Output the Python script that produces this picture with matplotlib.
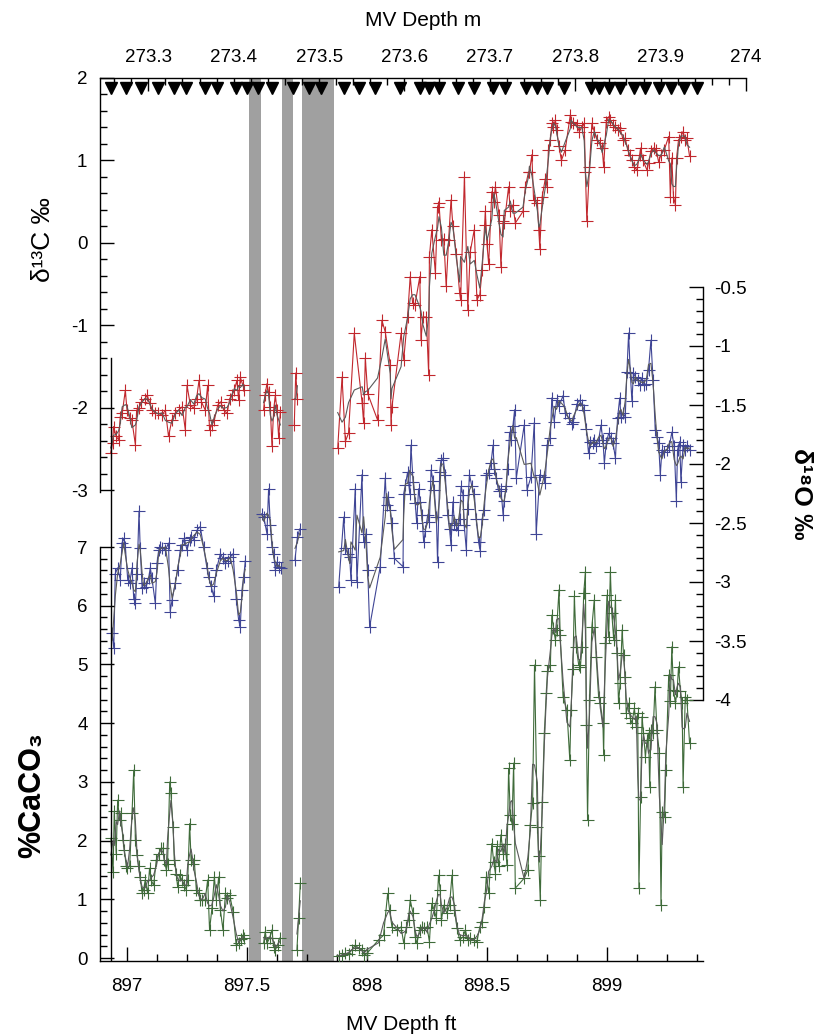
import numpy as np
import pandas as pd
import matplotlib
matplotlib.use('Agg')
import matplotlib.pyplot as plt
from matplotlib.lines import Line2D
from matplotlib.ticker import MultipleLocator, FuncFormatter

nan = np.nan

# ---- data -------------------------------------------------------------
# depth in ft (MV Depth), nan separates the core pieces around the gaps
c13_depth = [
    896.932, 896.940, 896.944, 896.955, 896.965, 896.972, 896.980, 896.993, 897.000, 897.011,
    897.020, 897.035, 897.040, 897.050, 897.060, 897.075, 897.085, 897.094, 897.104, 897.118,
    897.130, 897.146, 897.160, 897.173, 897.187, 897.200, 897.215, 897.230, 897.243, 897.250,
    897.264, 897.278, 897.290, 897.300, 897.310, 897.326, 897.336, 897.344, 897.354, 897.364,
    897.378, 897.390, 897.403, 897.417, 897.428, 897.437, 897.447, 897.458, 897.465, 897.472,
    897.483, 897.489, nan,
    897.569, 897.575, 897.583, 897.590, 897.597, 897.604, 897.611, 897.618, 897.625, 897.632,
    897.639, nan,
    897.697, 897.703, 897.710, nan,
    897.878, 897.896, 897.910, 897.923, 897.947, 897.980, 897.986, 897.993, 898.003, 898.044,
    898.062, 898.076, 898.097, 898.100, 898.104, 898.142, 898.153, 898.169, 898.180, 898.190,
    898.200, 898.220, 898.225, 898.233, 898.247, 898.257, 898.260, 898.270, 898.285, 898.294,
    898.300, 898.310, 898.320, 898.330, 898.340, 898.350, 898.358, 898.372, 898.386, 898.390,
    898.406, 898.420, 898.430, 898.447, 898.458, 898.470, 898.480, 898.490, 898.493, 898.500,
    898.507, 898.520, 898.528, 898.535, 898.550, 898.558, 898.567, 898.572, 898.590, 898.597,
    898.608, 898.618, 898.650, 898.660, 898.673, 898.677, 898.687, 898.694, 898.710, 898.716,
    898.720, 898.730, 898.743, 898.750, 898.756, 898.764, 898.770, 898.777, 898.785, 898.790,
    898.800, 898.810, 898.826, 898.847, 898.850, 898.860, 898.874, 898.885, 898.895, 898.905,
    898.910, 898.916, 898.927, 898.937, 898.947, 898.958, 898.970, 898.980, 898.986, 898.997,
    899.007, 899.014, 899.025, 899.035, 899.044, 899.055, 899.067, 899.076, 899.086, 899.094,
    899.104, 899.114, 899.125, 899.136, 899.140, 899.150, 899.167, 899.173, 899.183, 899.194,
    899.205, 899.215, 899.225, 899.239, 899.257, 899.264, 899.270, 899.277, 899.285, 899.290,
    899.298, 899.308, 899.317, 899.326, 899.333, 899.344,
]
c13_value = [
    -2.55, -2.43, -2.23, -2.35, -2.39, -2.11, -2.07, -1.79, -2.03, -2.13,
    -2.15, -2.45, -2.03, -2.01, -1.93, -1.89, -1.85, -1.95, -2.03, -2.07,
    -2.07, -2.09, -2.03, -2.35, -2.15, -2.07, -2.03, -1.99, -2.27, -1.73,
    -1.97, -2.01, -1.89, -1.67, -1.93, -2.03, -1.73, -2.27, -2.21, -2.15,
    -1.97, -1.93, -2.03, -2.07, -1.89, -1.85, -1.79, -1.67, -1.91, -1.63,
    -1.73, -1.79, nan,
    -2.03, -1.85, -1.71, -1.81, -1.99, -2.47, -2.03, -1.85, -2.03, -2.37,
    -2.05, nan,
    -2.21, -1.58, -1.89, nan,
    -2.49, -1.63, -2.41, -2.31, -1.10, -1.95, -2.19, -1.40, -1.83, -2.15,
    -0.94, -1.08, -1.48, -2.21, -1.99, -1.10, -1.42, -0.90, -0.41, -0.73,
    -0.75, -0.41, -1.18, -0.90, -0.90, -1.60, -0.17, 0.16, -0.37, 0.44,
    0.48, 0.03, 0.05, -0.53, 0.03, 0.52, 0.20, -0.13, -0.61, -0.69,
    0.80, -0.82, -0.11, 0.16, -0.69, -0.63, -0.33, 0.22, 0.38, -0.02,
    -0.26, 0.62, 0.50, 0.68, 0.34, -0.29, 0.26, 0.24, 0.68, 0.38,
    0.46, 0.24, 0.38, 0.68, 0.86, 0.86, 1.07, 0.52, 0.48, 0.16,
    -0.07, 0.56, 0.78, 0.68, 1.13, 1.25, 1.45, 1.41, 1.49, 1.37,
    1.17, 1.00, 1.13, 1.55, 1.47, 1.45, 1.43, 1.35, 1.41, 1.45,
    0.86, 0.26, 0.92, 1.45, 1.35, 1.25, 1.21, 1.15, 0.92, 1.47,
    1.53, 1.49, 1.43, 1.41, 1.37, 1.39, 1.25, 1.27, 1.13, 1.07,
    1.00, 0.92, 0.88, 1.07, 1.15, 1.00, 0.88, 0.97, 1.11, 1.15,
    1.13, 0.98, 1.07, 1.13, 1.29, 0.56, 1.03, 0.56, 0.46, 1.03,
    1.25, 1.29, 1.35, 1.25, 1.27, 1.05,
]

o18_depth = [
    896.938, 896.945, 896.951, 896.961, 896.972, 896.979, 896.986, 896.993, 897.003, 897.011,
    897.021, 897.028, 897.035, 897.042, 897.050, 897.055, 897.063, 897.069, 897.080, 897.090,
    897.097, 897.104, 897.118, 897.125, 897.132, 897.139, 897.146, 897.160, 897.173, 897.180,
    897.188, 897.201, 897.211, 897.222, 897.229, 897.239, 897.250, 897.261, 897.267, 897.278,
    897.292, 897.305, 897.319, 897.333, 897.340, 897.350, 897.361, 897.372, 897.389, 897.400,
    897.410, 897.419, 897.430, 897.442, 897.455, 897.465, 897.472, 897.479, 897.486, 897.493,
    nan,
    897.562, 897.570, 897.583, 897.590, 897.597, 897.604, 897.611, 897.618, 897.625, 897.632,
    897.640, nan,
    897.700, 897.710, 897.720, nan,
    897.882, 897.903, 897.910, 897.919, 897.928, 897.933, 897.951, 897.958, 897.979, 897.986,
    897.997, 898.003, 898.011, 898.055, 898.076, 898.082, 898.089, 898.097, 898.104, 898.114,
    898.150, 898.153, 898.160, 898.169, 898.178, 898.183, 898.192, 898.201, 898.207, 898.215,
    898.222, 898.229, 898.236, 898.243, 898.253, 898.260, 898.267, 898.275, 898.280, 898.289,
    898.294, 898.303, 898.308, 898.317, 898.326, 898.336, 898.344, 898.350, 898.358, 898.364,
    898.372, 898.378, 898.386, 898.392, 898.400, 898.405, 898.414, 898.419, 898.427, 898.437,
    898.447, 898.455, 898.465, 898.472, 898.479, 898.489, 898.497, 898.507, 898.517, 898.525,
    898.530, 898.539, 898.548, 898.558, 898.567, 898.572, 898.580, 898.586, 898.594, 898.600,
    898.608, 898.615, 898.622, 898.655, 898.667, 898.683, 898.697, 898.705, 898.720, 898.736,
    898.743, 898.750, 898.764, 898.770, 898.780, 898.790, 898.800, 898.817, 898.826, 898.840,
    898.854, 898.860, 898.875, 898.886, 898.896, 898.905, 898.914, 898.923, 898.930, 898.942,
    898.947, 898.955, 898.965, 898.975, 898.983, 898.989, 898.997, 899.007, 899.017, 899.025,
    899.035, 899.044, 899.053, 899.058, 899.067, 899.076, 899.083, 899.090, 899.097, 899.104,
    899.110, 899.118, 899.128, 899.136, 899.146, 899.155, 899.164, 899.173, 899.183, 899.192,
    899.201, 899.208, 899.215, 899.222, 899.229, 899.239, 899.250, 899.260, 899.270, 899.280,
    899.289, 899.294, 899.303, 899.308, 899.317, 899.326, 899.333, 899.344,
]
o18_value = [
    -3.43, -3.56, -2.93, -2.88, -2.98, -2.67, -2.63, -2.70, -2.98, -3.01,
    -2.88, -3.14, -3.18, -2.93, -2.40, -2.71, -3.05, -3.01, -3.04, -2.97,
    -2.88, -2.97, -3.18, -2.84, -2.73, -2.70, -2.71, -2.73, -2.67, -3.25,
    -3.15, -3.01, -2.90, -2.73, -2.69, -2.63, -2.73, -2.64, -2.62, -2.64,
    -2.56, -2.53, -2.70, -2.88, -2.96, -3.03, -3.12, -2.90, -2.76, -2.80,
    -2.84, -2.82, -2.79, -2.76, -3.14, -3.32, -3.38, -3.07, -2.96, -2.82,
    nan,
    -2.42, -2.45, -2.59, -2.21, -2.52, -2.70, -2.76, -2.90, -2.83, -2.87,
    -2.88, nan,
    -2.81, -2.62, -2.55, nan,
    -3.04, -2.45, -2.71, -2.76, -2.79, -2.98, -2.21, -3.00, -2.09, -2.66,
    -2.59, -2.90, -3.38, -2.87, -2.12, -2.35, -2.28, -2.39, -2.50, -2.80,
    -2.87, -2.25, -2.18, -2.07, -2.25, -1.84, -2.15, -2.33, -2.50, -2.21,
    -2.32, -2.43, -2.66, -2.57, -2.43, -2.49, -2.05, -2.14, -2.22, -2.45,
    -2.83, -2.07, -1.97, -1.95, -2.09, -2.43, -2.55, -2.69, -2.32, -2.50,
    -2.52, -2.56, -2.47, -2.19, -2.26, -2.52, -2.73, -2.38, -2.09, -2.19,
    -2.25, -2.47, -2.66, -2.74, -2.47, -2.39, -2.09, -2.08, -1.99, -1.84,
    -2.04, -2.12, -2.23, -2.21, -2.43, -2.31, -2.19, -2.04, -1.73, -1.80,
    -1.68, -1.54, -2.12, -1.67, -2.22, -2.11, -1.65, -2.59, -2.09, -2.11,
    -2.16, -1.84, -1.78, -1.44, -1.64, -1.46, -1.51, -1.42, -1.57, -1.61,
    -1.66, -1.64, -1.49, -1.46, -1.50, -1.54, -1.70, -1.91, -1.81, -1.82,
    -1.80, -1.85, -1.80, -1.67, -1.80, -1.99, -1.82, -1.74, -1.78, -1.82,
    -1.95, -1.61, -1.44, -1.60, -1.57, -1.60, -1.22, -0.89, -1.23, -1.47,
    -1.23, -1.26, -1.29, -1.33, -1.27, -1.33, -1.32, -1.20, -0.95, -1.29,
    -1.71, -1.77, -1.82, -2.09, -1.88, -1.90, -1.88, -1.85, -1.73, -1.85,
    -2.31, -1.88, -1.81, -2.15, -1.84, -1.88, -1.85, -1.88,
]

caco3_depth = [
    896.933, 896.942, 896.947, 896.955, 896.961, 896.969, 896.975, 896.983, 896.989, 896.997,
    897.002, 897.011, 897.021, 897.028, 897.035, 897.042, 897.048, 897.055, 897.063, 897.069,
    897.076, 897.086, 897.094, 897.100, 897.111, 897.122, 897.132, 897.142, 897.150, 897.155,
    897.164, 897.169, 897.178, 897.183, 897.192, 897.197, 897.205, 897.211, 897.219, 897.229,
    897.239, 897.247, 897.253, 897.261, 897.267, 897.275, 897.280, 897.289, 897.298, 897.305,
    897.313, 897.326, 897.336, 897.344, 897.354, 897.364, 897.372, 897.382, 897.389, 897.400,
    897.410, 897.417, 897.428, 897.442, 897.455, 897.465, 897.475, 897.483, 897.489, nan,
    897.569, 897.576, 897.583, 897.594, 897.604, 897.611, 897.618, 897.628, 897.636, nan,
    897.708, 897.715, 897.722, nan,
    897.882, 897.896, 897.910, 897.923, 897.937, 897.951, 897.965, 897.979, 897.989, 898.000,
    898.048, 898.069, 898.086, 898.094, 898.104, 898.125, 898.142, 898.153, 898.164, 898.173,
    898.180, 898.192, 898.201, 898.208, 898.219, 898.229, 898.239, 898.250, 898.260, 898.270,
    898.280, 898.289, 898.298, 898.305, 898.310, 898.320, 898.333, 898.344, 898.354, 898.364,
    898.375, 898.386, 898.400, 898.410, 898.419, 898.430, 898.444, 898.458, 898.470, 898.480,
    898.489, 898.497, 898.507, 898.520, 898.528, 898.535, 898.540, 898.548, 898.558, 898.567,
    898.576, 898.583, 898.590, 898.597, 898.604, 898.611, 898.618, 898.655, 898.670, 898.680,
    898.690, 898.698, 898.710, 898.715, 898.722, 898.730, 898.739, 898.747, 898.752, 898.764,
    898.770, 898.777, 898.785, 898.790, 898.800, 898.805, 898.817, 898.833, 898.845, 898.850,
    898.858, 898.864, 898.872, 898.882, 898.889, 898.896, 898.903, 898.910, 898.914, 898.919,
    898.927, 898.937, 898.947, 898.955, 898.965, 898.972, 898.983, 898.986, 898.993, 899.000,
    899.007, 899.014, 899.020, 899.028, 899.035, 899.042, 899.048, 899.055, 899.063, 899.069,
    899.076, 899.080, 899.090, 899.097, 899.104, 899.114, 899.122, 899.128, 899.133, 899.140,
    899.146, 899.152, 899.160, 899.167, 899.173, 899.178, 899.183, 899.192, 899.200, 899.208,
    899.218, 899.225, 899.230, 899.240, 899.245, 899.257, 899.264, 899.270, 899.277, 899.285,
    899.292, 899.298, 899.306, 899.313, 899.317, 899.326, 899.333, 899.344,
]
caco3_value = [
    2.04, 1.47, 2.50, 1.78, 2.69, 2.35, 2.47, 2.01, 1.84, 1.56,
    1.53, 1.56, 2.47, 3.20, 2.01, 1.75, 1.56, 1.38, 1.10, 1.16,
    1.33, 1.10, 1.53, 1.33, 1.24, 1.67, 1.78, 1.87, 1.87, 1.67,
    1.50, 1.61, 3.00, 2.81, 2.24, 1.67, 1.44, 1.21, 1.41, 1.33,
    1.24, 1.16, 1.33, 2.29, 1.67, 1.61, 1.67, 1.16, 1.10, 0.99,
    0.99, 0.99, 1.33, 0.48, 0.85, 1.38, 0.99, 1.38, 0.82, 0.48,
    1.10, 1.02, 1.07, 0.79, 0.22, 0.25, 0.32, 0.39, 0.34, nan,
    0.25, 0.45, 0.25, 0.34, 0.48, 0.19, 0.14, 0.22, 0.34, nan,
    0.14, 0.68, 1.27, nan,
    0.03, 0.05, 0.08, 0.07, 0.14, 0.22, 0.17, 0.14, 0.05, 0.08,
    0.31, 0.39, 1.10, 0.82, 0.53, 0.48, 0.53, 0.25, 0.53, 0.65,
    0.99, 0.76, 0.36, 0.25, 0.48, 0.53, 0.51, 0.53, 0.28, 0.93,
    0.82, 0.68, 1.41, 1.16, 0.65, 0.90, 0.76, 0.90, 1.41, 0.82,
    0.51, 0.31, 0.36, 0.48, 0.31, 0.34, 0.31, 0.28, 0.53, 0.62,
    0.87, 1.38, 1.10, 1.95, 1.64, 1.44, 1.90, 1.56, 2.10, 1.78,
    1.95, 1.58, 3.23, 2.44, 2.29, 3.32, 1.19, 1.36, 1.50, 2.27,
    2.64, 4.99, 2.24, 1.73, 0.99, 2.66, 3.83, 4.51, 4.88, 4.99,
    5.84, 5.62, 5.42, 5.59, 6.27, 5.50, 4.45, 4.22, 3.37, 4.22,
    4.93, 6.16, 5.30, 4.99, 4.96, 5.30, 6.21, 6.58, 3.97, 2.35,
    4.40, 5.64, 6.10, 5.13, 4.45, 4.34, 4.00, 3.46, 5.36, 6.18,
    5.47, 6.58, 5.87, 5.42, 6.10, 5.19, 4.34, 4.68, 5.59, 5.16,
    4.79, 4.17, 4.34, 4.08, 4.00, 4.25, 3.94, 4.17, 1.19, 2.75,
    4.11, 3.83, 3.43, 3.71, 3.83, 2.92, 3.88, 3.83, 4.62, 3.88,
    3.50, 0.90, 2.49, 2.41, 3.20, 4.82, 4.37, 5.30, 4.57, 4.34,
    4.54, 4.96, 4.54, 4.34, 2.92, 4.45, 4.40, 3.66,
]

# intervals with no recovery (ft)
gap_start = [897.510, 897.646, 897.730]
gap_end = [897.560, 897.690, 897.864]

# sample positions on the metre scale (triangles along the top)
sample_m = [
    273.256, 273.274, 273.291, 273.311, 273.330, 273.344, 273.366, 273.381, 273.403, 273.416,
    273.428, 273.445, 273.470, 273.488, 273.502, 273.529, 273.547, 273.565, 273.595, 273.618,
    273.629, 273.641, 273.663, 273.681, 273.704, 273.718, 273.742, 273.755, 273.767, 273.787,
    273.818, 273.828, 273.839, 273.853, 273.869, 273.882, 273.898, 273.912, 273.927, 273.943,
]

FT_LIM = (896.8875, 899.4)
M_LIM = (273.2434, 274.0)

RED = '#c1272d'
BLUE = '#3f4595'
GREEN = '#3f6b3a'
SMOOTH = '#5a5a5a'
BAND = '#a0a0a0'

plt.rcParams['font.family'] = ['Liberation Sans', 'DejaVu Sans']
plt.rcParams['axes.unicode_minus'] = False

W, H = 826, 1036


def box(x0, y0, x1, y1):
    """pixel box with top-left origin -> figure rect"""
    return [x0 / W, 1 - y1 / H, (x1 - x0) / W, (y1 - y0) / H]


def bare(ax, keep):
    ax.patch.set_alpha(0)
    for side in ['left', 'right', 'top', 'bottom']:
        ax.spines[side].set_visible(side in keep)
        ax.spines[side].set_linewidth(1.0)


def smooth(vals):
    s = pd.Series(vals, dtype=float)
    out = s.rolling(3, center=True, min_periods=1).mean()
    out[s.isna()] = np.nan
    return out.values


def plot_series(ax, depth, vals, color):
    ax.plot(depth, vals, color=color, lw=0.8, marker='+', ms=9, mew=0.8)
    ax.plot(depth, smooth(vals), color=SMOOTH, lw=0.8)


fmt = FuncFormatter(lambda v, p: '%g' % v)

fig = plt.figure(figsize=(W / 100, H / 100), dpi=100)

# host axes: ft scale and the gap bands
host = fig.add_axes(box(100, 78, 703, 961))
bare(host, ['bottom'])
host.set_xlim(*FT_LIM)
host.set_ylim(0, 1)
host.set_yticks([])
for a, b in zip(gap_start, gap_end):
    host.axvspan(a, b, color=BAND, lw=0, zorder=0)
host.xaxis.set_major_locator(MultipleLocator(0.5))
host.xaxis.set_minor_locator(MultipleLocator(0.125))
host.xaxis.set_major_formatter(fmt)
host.tick_params(axis='x', which='major', direction='in', length=10, width=1, labelsize=13.5, pad=12)
host.tick_params(axis='x', which='minor', direction='in', length=5, width=1)
host.set_xlabel('MV Depth ft', fontsize=15, labelpad=15)

# d13C
ax_c = fig.add_axes(box(100, 78, 703, 492))
bare(ax_c, ['left'])
ax_c.set_xlim(*FT_LIM)
ax_c.set_ylim(-3.024, 2)
ax_c.set_xticks([])
plot_series(ax_c, c13_depth, c13_value, RED)
ax_c.yaxis.set_major_locator(MultipleLocator(1))
ax_c.yaxis.set_minor_locator(MultipleLocator(0.2))
ax_c.yaxis.set_major_formatter(fmt)
ax_c.tick_params(axis='y', which='major', direction='in', length=10, width=1, labelsize=13.5, pad=9)
ax_c.tick_params(axis='y', which='minor', direction='in', length=5, width=1)
ax_c.set_ylabel('δ¹³C ‰', fontsize=19)
ax_c.yaxis.set_label_coords(-0.074, 0.61)

# d18O
ax_o = fig.add_axes(box(100, 287, 703, 700))
bare(ax_o, ['right'])
ax_o.set_xlim(*FT_LIM)
ax_o.set_ylim(-4, -0.5)
ax_o.set_xticks([])
plot_series(ax_o, o18_depth, o18_value, BLUE)
ax_o.yaxis.tick_right()
ax_o.yaxis.set_label_position('right')
ax_o.yaxis.set_major_locator(MultipleLocator(0.5))
ax_o.yaxis.set_minor_locator(MultipleLocator(0.1))
ax_o.yaxis.set_major_formatter(fmt)
ax_o.tick_params(axis='y', which='major', direction='in', length=10, width=1, labelsize=13.5, pad=8)
ax_o.tick_params(axis='y', which='minor', direction='in', length=5, width=1)
ax_o.set_ylabel('δ¹⁸O ‰', fontsize=19, fontweight='bold', rotation=270, va='center')
ax_o.yaxis.set_label_coords(1.162, 0.5)

# CaCO3
ax_ca = fig.add_axes(box(100, 547, 703, 961))
bare(ax_ca, ['left'])
ax_ca.set_xlim(*FT_LIM)
ax_ca.set_ylim(-0.05, 7)
ax_ca.set_xticks([])
plot_series(ax_ca, caco3_depth, caco3_value, GREEN)
ax_ca.yaxis.set_major_locator(MultipleLocator(1))
ax_ca.yaxis.set_minor_locator(MultipleLocator(0.2))
ax_ca.yaxis.set_major_formatter(fmt)
ax_ca.tick_params(axis='y', which='major', direction='in', length=10, width=1, labelsize=13.5, pad=9)
ax_ca.tick_params(axis='y', which='minor', direction='in', length=5, width=1)
ax_ca.set_ylabel('%CaCO₃', fontsize=22, fontweight='bold')
ax_ca.yaxis.set_label_coords(-0.088, 0.40)

# inner frame line on the left
fig.add_artist(Line2D([111 / W, 111 / W], [1 - 358 / H, 1 - 960 / H], color='black', lw=1.0))

# metre scale along the top with sample markers
ax_m = fig.add_axes(box(100, 78, 746, 98))
bare(ax_m, ['top'])
ax_m.set_xlim(*M_LIM)
ax_m.set_ylim(0, 1)
ax_m.set_yticks([])
ax_m.plot(sample_m, [0.5] * len(sample_m), 'v', color='black', ms=8, clip_on=False)
ax_m.xaxis.tick_top()
ax_m.xaxis.set_label_position('top')
ax_m.xaxis.set_major_locator(MultipleLocator(0.1))
ax_m.xaxis.set_minor_locator(MultipleLocator(0.02))
ax_m.xaxis.set_major_formatter(fmt)
ax_m.tick_params(axis='x', which='major', direction='in', length=9, width=1, labelsize=13.5, pad=9)
ax_m.tick_params(axis='x', which='minor', direction='in', length=5, width=1)
ax_m.set_xlabel('MV Depth m', fontsize=15, labelpad=16)

fig.savefig('out.png', dpi=100)
